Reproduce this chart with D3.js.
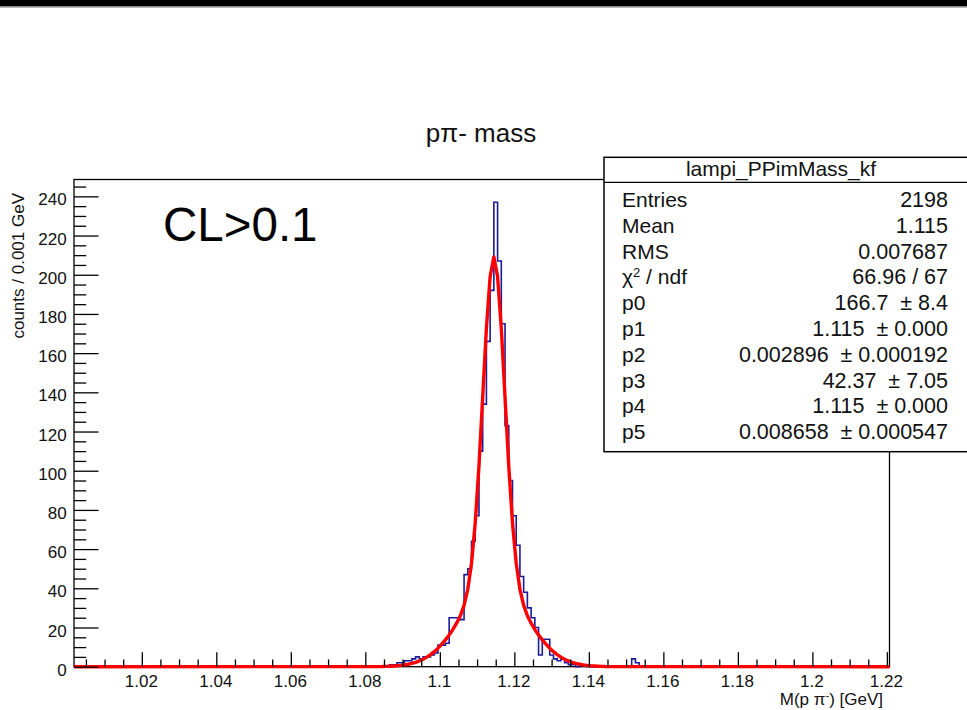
<!DOCTYPE html>
<html>
<head>
<meta charset="utf-8">
<script src="https://cdn.jsdelivr.net/npm/d3@7"></script>
<style>
body { margin: 0; background: #fff; }
svg { display: block; font-family: "Liberation Sans", Arial, Helvetica, sans-serif; }
</style>
</head>
<body>
<div id="chart"></div>
<script>
// histogram: bin width 0.001 GeV, first stored bin centred at 1.085
var binWidth = 0.001;
var firstBin = 1.085;
var counts = [
  0, 0, 1, 1, 2, 2, 3, 3, 4, 5, 4, 5, 5, 6, 7,          // 1.085 - 1.099
  11, 11, 12, 25, 25, 25, 24, 47, 50, 64,               // 1.100 - 1.109
  77, 110, 134, 166, 192, 237, 207, 175, 123, 95,       // 1.110 - 1.119
  77, 62, 46, 38, 30, 25, 20, 6, 14, 14,                // 1.120 - 1.129
  6, 4, 3, 4, 2, 1, 1, 0, 1, 1,                         // 1.130 - 1.139
  0, 0, 0, 0, 0, 0, 0, 0, 0, 0, 0, 0,                   // 1.140 - 1.151
  4, 2                                                  // 1.152 - 1.153
];

// fitted curve
var fitX = [1.0018,
  1.0845, 1.0855, 1.0865, 1.0875, 1.0885, 1.0895, 1.0905, 1.0915, 1.0925, 1.0935,
  1.0945, 1.0955, 1.0965, 1.0975, 1.0985, 1.0995, 1.1005, 1.1015, 1.1025, 1.1035,
  1.1045, 1.1055, 1.1065, 1.1075, 1.1085, 1.1095, 1.1105, 1.1115, 1.1125, 1.1135,
  1.1145,
  1.1155, 1.1165, 1.1175, 1.1185, 1.1195, 1.1205, 1.1215, 1.1225, 1.1235, 1.1245,
  1.1255, 1.1265, 1.1275, 1.1285, 1.1295, 1.1305, 1.1315, 1.1325, 1.1335, 1.1345,
  1.1355, 1.1365, 1.1375, 1.1385, 1.1395, 1.1405, 1.1415, 1.1425, 1.1435, 1.1445,
  1.2207];
var fitY = [0,
  0.1, 0.16, 0.23, 0.33, 0.47, 0.66, 0.91, 1.24, 1.68, 2.24,
  2.94, 3.81, 4.88, 6.17, 7.68, 9.45, 11.47, 13.7, 16.2, 19.0,
  22.2, 26.0, 31.3, 39.5, 52.8, 73.4, 102.3, 137.4, 172.6, 199.1,
  209.1,
  199.1, 172.6, 137.4, 102.3, 73.4, 52.8, 39.5, 31.3, 26.0, 22.2,
  19.0, 16.2, 13.7, 11.47, 9.45, 7.68, 6.17, 4.88, 3.81, 2.94,
  2.24, 1.68, 1.24, 0.91, 0.66, 0.47, 0.33, 0.23, 0.16, 0.1,
  0];

var xMajor = [1.02, 1.04, 1.06, 1.08, 1.1, 1.12, 1.14, 1.16, 1.18, 1.2, 1.22];
var xLabels = ["1.02", "1.04", "1.06", "1.08", "1.1", "1.12", "1.14", "1.16", "1.18", "1.2", "1.22"];
var yMajor = [0, 20, 40, 60, 80, 100, 120, 140, 160, 180, 200, 220, 240];

var statNames = ["Entries", "Mean", "RMS", "\u03c7\u00b2 / ndf", "p0", "p1", "p2", "p3", "p4", "p5"];
var statValues = ["2198", "1.115", "0.007687", "66.96 / 67", "166.7  \u00b1 8.4", "1.115  \u00b1 0.000",
  "0.002896  \u00b1 0.000192", "42.37  \u00b1 7.05", "1.115  \u00b1 0.000", "0.008658  \u00b1 0.000547"];

var width = 967, height = 710;
var frame = {left: 74, right: 889.5, top: 179.5, bottom: 666.7};

var svg = d3.select("#chart").append("svg")
    .attr("width", width)
    .attr("height", height);

svg.append("rect").attr("width", width).attr("height", height).attr("fill", "#fff");
// black strip on top
svg.append("rect").attr("width", width).attr("height", 6.5).attr("fill", "#000");
svg.append("rect").attr("y", 6.5).attr("width", width).attr("height", 1.2).attr("fill", "#9a9a9a");

var x = d3.scaleLinear().domain([1.0018, 1.2207]).range([frame.left, frame.right]);
var y = d3.scaleLinear().domain([0, 248.6]).range([frame.bottom, frame.top]);

// frame
svg.append("rect")
    .attr("x", frame.left).attr("y", frame.top)
    .attr("width", frame.right - frame.left).attr("height", frame.bottom - frame.top)
    .attr("fill", "none").attr("stroke", "#000").attr("stroke-width", 1.3);

// histogram outline
var pts = [[x.domain()[0], 0]];
counts.forEach(function(c, i) {
  var mid = firstBin + i * binWidth;
  pts.push([mid - binWidth / 2, c]);
  pts.push([mid + binWidth / 2, c]);
});
pts.push([pts[pts.length - 1][0], 0]);
pts.push([x.domain()[1], 0]);
pts.splice(1, 0, [firstBin - binWidth / 2, 0]);

var line = d3.line().x(function(d) { return x(d[0]); }).y(function(d) { return y(d[1]); });

svg.append("path").datum(pts)
    .attr("d", line)
    .attr("fill", "none").attr("stroke", "#1a1a9c").attr("stroke-width", 1.6);

// fit
svg.append("path").datum(fitX.map(function(v, i) { return [v, fitY[i]]; }))
    .attr("d", line)
    .attr("fill", "none").attr("stroke", "#ff0000").attr("stroke-width", 3.4)
    .attr("stroke-linejoin", "round");

// axes
var xMinor = d3.range(1.005, 1.2201, 0.005).filter(function(v) {
  return Math.abs(v / 0.02 - Math.round(v / 0.02)) > 0.01;
});
var yMinor = d3.range(5, 248, 5).filter(function(v) { return v % 20 != 0; });

svg.append("g").attr("transform", "translate(0," + frame.bottom + ")")
    .call(d3.axisBottom(x).tickValues(xMajor).tickSize(-14.5).tickPadding(8)
      .tickFormat(function(d, i) { return xLabels[i]; }))
    .call(function(g) {
      g.select(".domain").remove();
      g.selectAll("line").attr("stroke", "#000").attr("stroke-width", 1.3);
      g.selectAll("text").attr("font-size", 17).attr("font-family", null).attr("fill", "#111")
        .attr("dx", -1);
    });
svg.append("g").attr("transform", "translate(0," + frame.bottom + ")")
    .call(d3.axisBottom(x).tickValues(xMinor).tickSize(-7.3).tickFormat(""))
    .call(function(g) {
      g.select(".domain").remove();
      g.selectAll("line").attr("stroke", "#000").attr("stroke-width", 1.3);
    });

svg.append("g").attr("transform", "translate(" + frame.left + ",0)")
    .call(d3.axisLeft(y).tickValues(yMajor).tickSize(-24.5).tickPadding(7.3))
    .call(function(g) {
      g.select(".domain").remove();
      g.selectAll("line").attr("stroke", "#000").attr("stroke-width", 1.3);
      g.selectAll("text").attr("font-size", 17).attr("font-family", null).attr("fill", "#111")
        .attr("dy", "0.5em");
    });
svg.append("g").attr("transform", "translate(" + frame.left + ",0)")
    .call(d3.axisLeft(y).tickValues(yMinor).tickSize(-12.2).tickFormat(""))
    .call(function(g) {
      g.select(".domain").remove();
      g.selectAll("line").attr("stroke", "#000").attr("stroke-width", 1.3);
    });

// axis titles
var xt = svg.append("text").attr("x", 883).attr("y", 705)
    .attr("text-anchor", "end").attr("font-size", 17).attr("fill", "#111");
xt.append("tspan").text("M(p \u03c0");
xt.append("tspan").attr("dy", -6).attr("font-size", 11).text("-");
xt.append("tspan").attr("dy", 6).text(") [GeV]");

svg.append("text")
    .attr("transform", "translate(24,193) rotate(-90)")
    .attr("text-anchor", "end").attr("font-size", 17).attr("fill", "#111")
    .text("counts / 0.001 GeV");

// title and label
svg.append("text").attr("x", 481).attr("y", 141.5)
    .attr("text-anchor", "middle").attr("font-size", 26).attr("fill", "#111")
    .text("p\u03c0- mass");
svg.append("text").attr("x", 163).attr("y", 241)
    .attr("font-size", 47.5).attr("fill", "#000")
    .text("CL>0.1");

// stats box
var box = svg.append("g");
box.append("rect").attr("x", 604).attr("y", 157.3).attr("width", 400).attr("height", 294.4)
    .attr("fill", "#fff").attr("stroke", "#000").attr("stroke-width", 1.5);
box.append("line").attr("x1", 604).attr("x2", 967).attr("y1", 182.3).attr("y2", 182.3)
    .attr("stroke", "#000").attr("stroke-width", 1.3);
box.append("text").attr("x", 781).attr("y", 176)
    .attr("text-anchor", "middle").attr("font-size", 21).attr("fill", "#111")
    .text("lampi_PPimMass_kf");

statNames.forEach(function(name, i) {
  var yy = 207 + i * 25.8;
  var t = box.append("text").attr("x", 622).attr("y", yy)
      .attr("font-size", 21).attr("fill", "#111");
  if (i == 3) {
    t.append("tspan").text("\u03c7");
    t.append("tspan").attr("dy", -7).attr("font-size", 13).text("2");
    t.append("tspan").attr("dy", 7).text(" / ndf");
  } else {
    t.text(name);
  }
  box.append("text").attr("x", 948).attr("y", yy)
      .attr("text-anchor", "end").attr("font-size", 21.5).attr("fill", "#111")
      .style("white-space", "pre")
      .text(statValues[i]);
});
</script>
</body>
</html>
